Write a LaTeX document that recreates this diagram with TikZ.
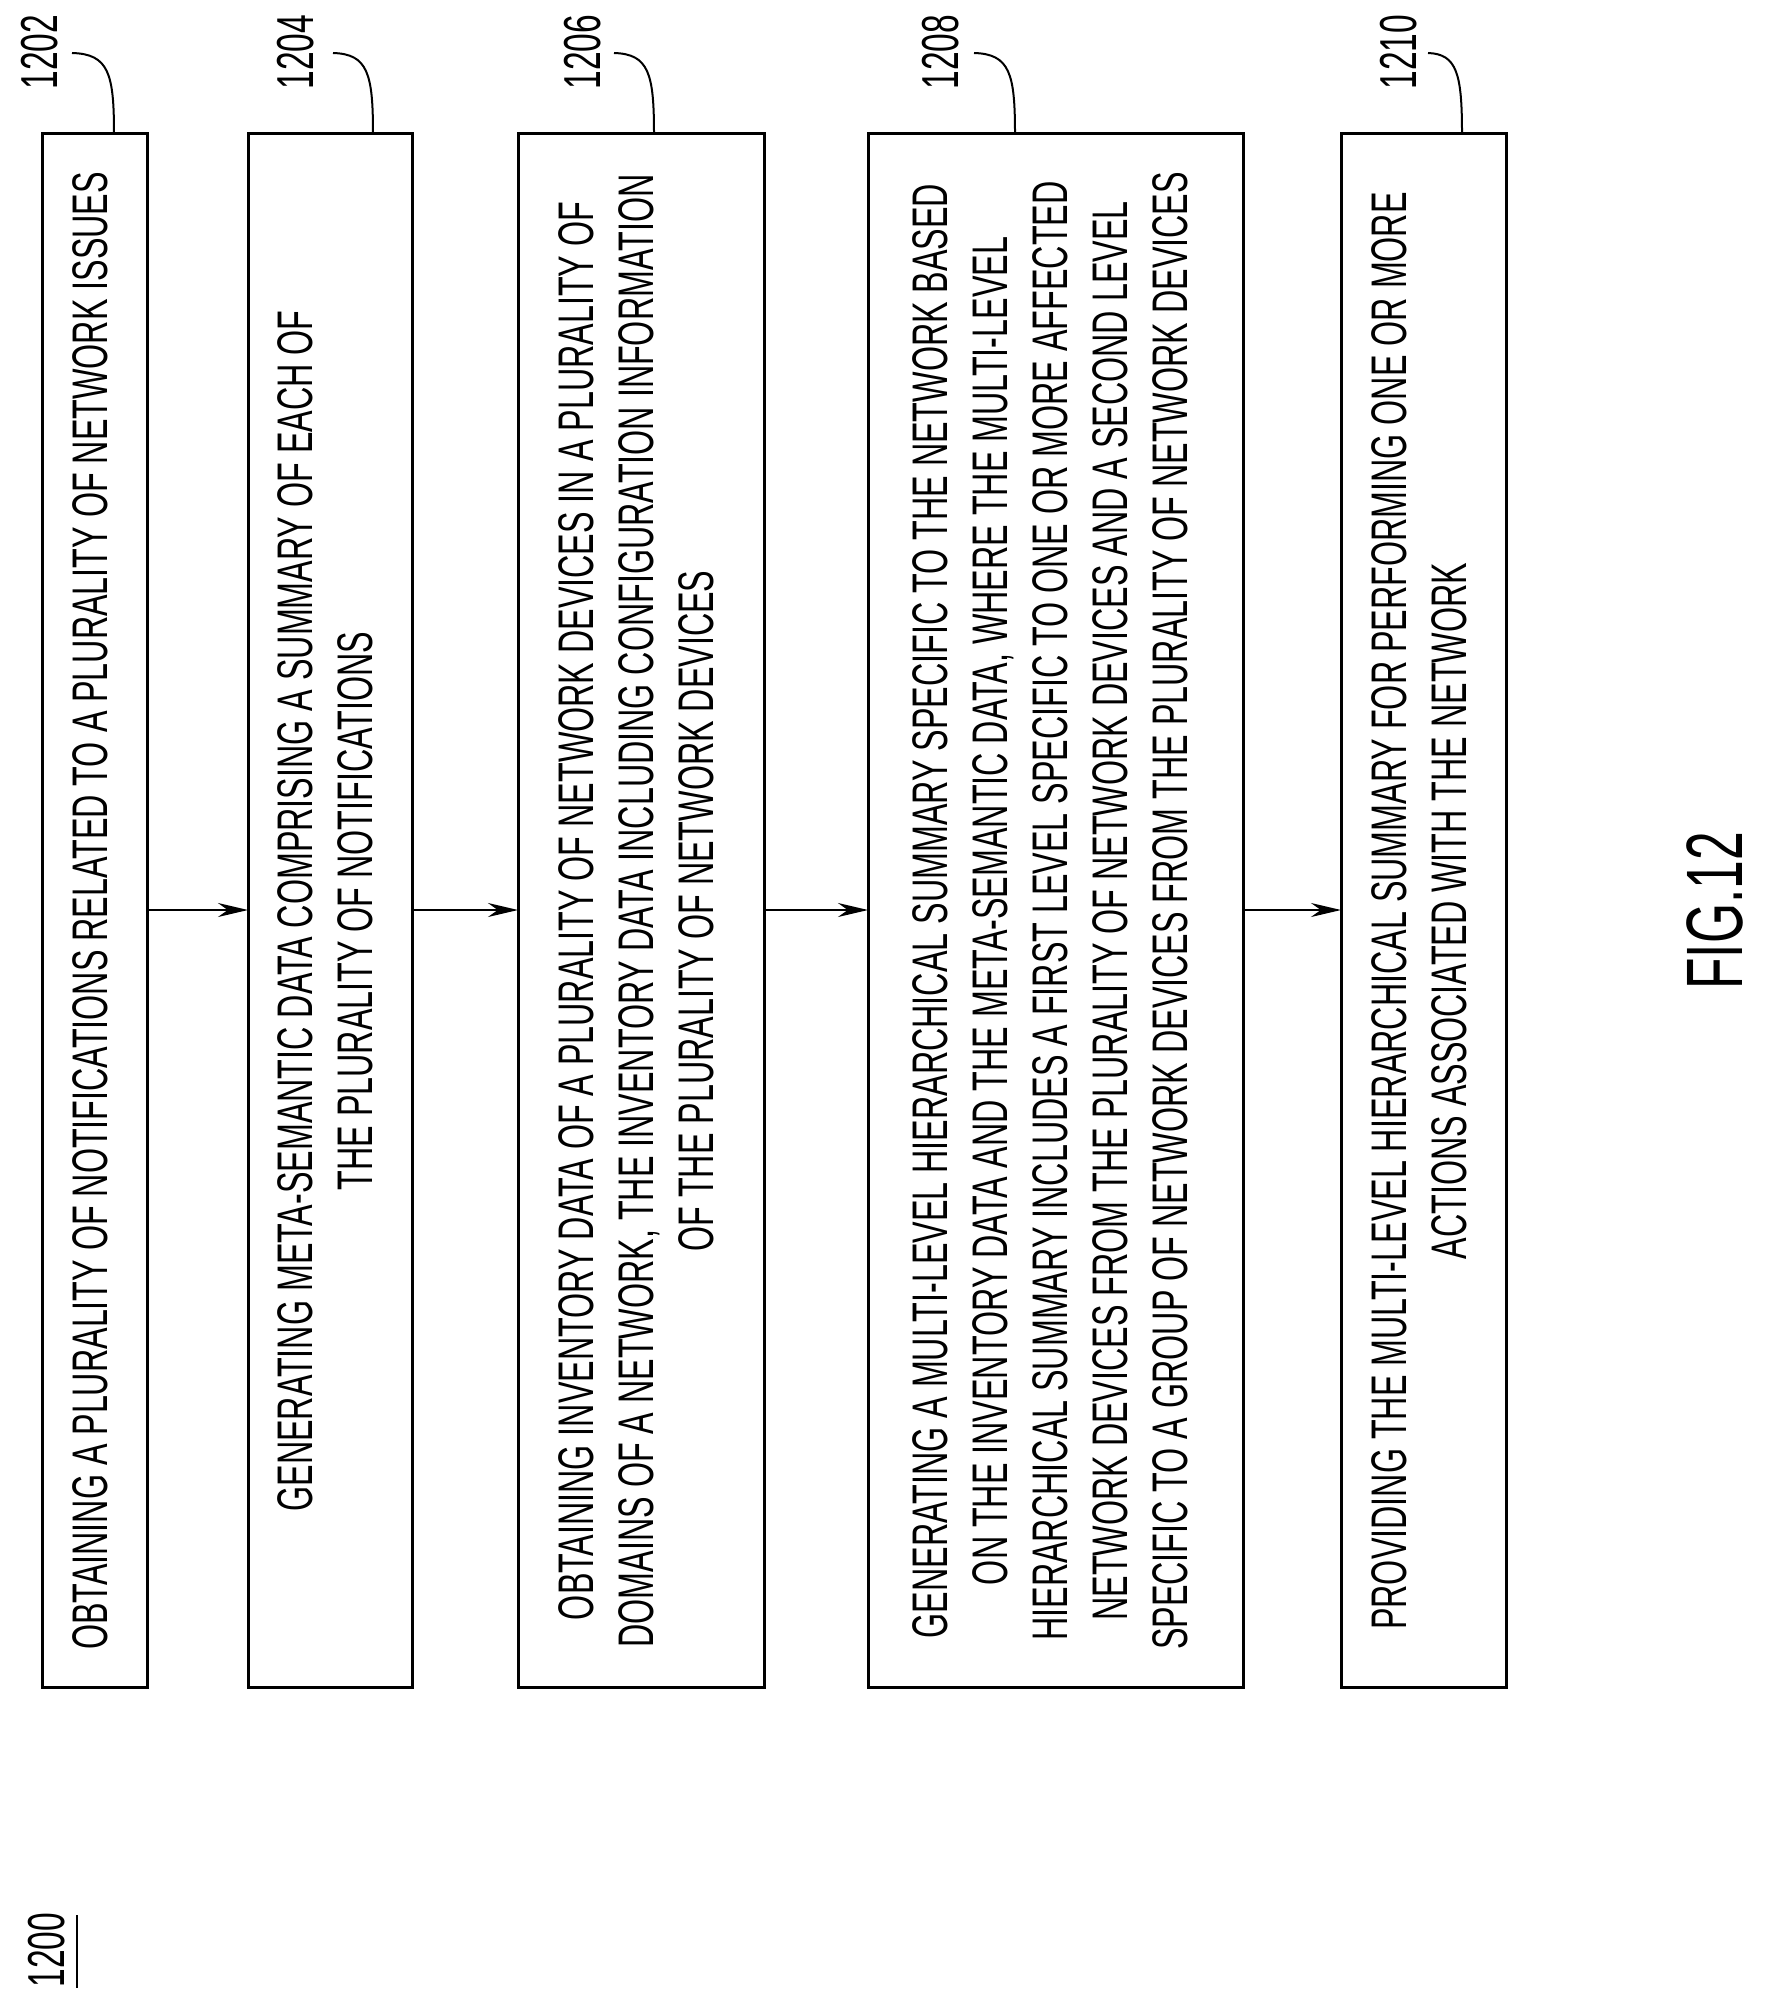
\documentclass[tikz,border=0pt]{standalone}
\usepackage{fontspec}
\setmainfont{Liberation Sans}
\usetikzlibrary{arrows.meta,calc}
\begin{document}
\begin{tikzpicture}[x=1pt,y=-1pt,
  box/.style={draw,line width=3pt,inner sep=0pt},
  txt/.style={rotate=90,inner sep=0pt,align=center,font=\fontsize{50}{60}\selectfont},
  lbl/.style={rotate=90,inner sep=0pt,font=\fontsize{52}{60}\selectfont},
  lead/.style={line width=2pt},
  arr/.style={line width=2pt,-{Stealth[length=30pt,width=14pt]}}]
\useasboundingbox (0,0) rectangle (1764,2009);
\newcommand{\cx}[1]{\scalebox{0.645}[1]{#1}}
% boxes
\draw[box] (42,134) rectangle (147,1687);
\draw[box] (248,134) rectangle (412,1687);
\draw[box] (518,134) rectangle (764,1687);
\draw[box] (868,134) rectangle (1243,1687);
\draw[box] (1341,134) rectangle (1506,1687);
\node[txt] (t1) at (95,911) {\cx{\begin{tabular}{@{}c@{}}OBTAINING A PLURALITY OF NOTIFICATIONS RELATED TO A PLURALITY OF NETWORK ISSUES\end{tabular}}};
\node[txt] (t2) at (330,911) {\cx{\begin{tabular}{@{}c@{}}GENERATING META-SEMANTIC DATA COMPRISING A SUMMARY OF EACH OF\\THE PLURALITY OF NOTIFICATIONS\end{tabular}}};
\node[txt] (t3) at (641,911) {\cx{\begin{tabular}{@{}c@{}}OBTAINING INVENTORY DATA OF A PLURALITY OF NETWORK DEVICES IN A PLURALITY OF\\DOMAINS OF A NETWORK, THE INVENTORY DATA INCLUDING CONFIGURATION INFORMATION\\OF THE PLURALITY OF NETWORK DEVICES\end{tabular}}};
\node[txt] (t4) at (1055,911) {\cx{\begin{tabular}{@{}c@{}}GENERATING A MULTI-LEVEL HIERARCHICAL SUMMARY SPECIFIC TO THE NETWORK BASED\\ON THE INVENTORY DATA AND THE META-SEMANTIC DATA, WHERE THE MULTI-LEVEL\\HIERARCHICAL SUMMARY INCLUDES A FIRST LEVEL SPECIFIC TO ONE OR MORE AFFECTED\\NETWORK DEVICES FROM THE PLURALITY OF NETWORK DEVICES AND A SECOND LEVEL\\SPECIFIC TO A GROUP OF NETWORK DEVICES FROM THE PLURALITY OF NETWORK DEVICES\end{tabular}}};
\node[txt] (t5) at (1424,911) {\cx{\begin{tabular}{@{}c@{}}PROVIDING THE MULTI-LEVEL HIERARCHICAL SUMMARY FOR PERFORMING ONE OR MORE\\ACTIONS ASSOCIATED WITH THE NETWORK\end{tabular}}};
% box anchors
\coordinate (b1r) at (147,910); \coordinate (b2l) at (248,910);
\coordinate (b2r) at (412,910); \coordinate (b3l) at (518,910);
\coordinate (b3r) at (764,910); \coordinate (b4l) at (868,910);
\coordinate (b4r) at (1243,910); \coordinate (b5l) at (1341,910);
\draw[arr] (b1r) -- (b2l);
\draw[arr] (b2r) -- (b3l);
\draw[arr] (b3r) -- (b4l);
\draw[arr] (b4r) -- (b5l);
% labels
\node[lbl] (l1) at (40,52) {\cx{1202}};
\node[lbl] (l2) at (296,52) {\cx{1204}};
\node[lbl] (l3) at (583,52) {\cx{1206}};
\node[lbl] (l4) at (941,52) {\cx{1208}};
\node[lbl] (l5) at (1399,52) {\cx{1210}};
\coordinate (s1) at (114,134); \coordinate (e1) at (72,53);
\coordinate (s2) at (373,134); \coordinate (e2) at (333,53);
\coordinate (s3) at (654,134); \coordinate (e3) at (614,53);
\coordinate (s4) at (1015,134); \coordinate (e4) at (974,53);
\coordinate (s5) at (1462,134); \coordinate (e5) at (1428,53);
\foreach \i in {1,...,5}{
  \draw[lead] (s\i) .. controls ($(s\i)+(0,-60)$) and ($(s\i)+(-5,-80)$) .. (e\i);
}
\node[lbl] (n1200) at (47,1950) {\cx{1200}};
\coordinate (u1) at (77,1915); \coordinate (u2) at (77,1988);
\draw[line width=2pt] (u1) -- (u2);
\node[rotate=90,inner sep=0pt,font=\fontsize{80}{90}\selectfont] (fig) at (1715,911) {\cx{FIG.12}};
\end{tikzpicture}
\end{document}
